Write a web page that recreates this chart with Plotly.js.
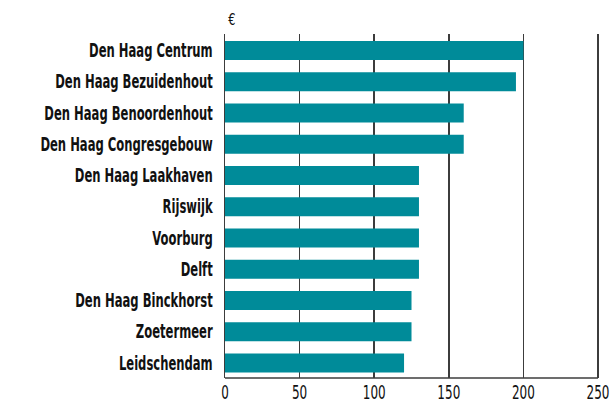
<!DOCTYPE html>
<html>
<head>
<meta charset="utf-8">
<script src="https://cdn.plot.ly/plotly-3.0.1.min.js"></script>
<style>html,body{margin:0;padding:0;background:#fff;}#chart{width:614px;height:403px;}</style>
</head>
<body>
<div id="chart"></div>
<script>
const categories = ["Den Haag Centrum","Den Haag Bezuidenhout","Den Haag Benoordenhout","Den Haag Congresgebouw","Den Haag Laakhaven","Rijswijk","Voorburg","Delft","Den Haag Binckhorst","Zoetermeer","Leidschendam"];
const values = [200,195,160,160,130,130,130,130,125,125,120];
const xTicks = [0,50,100,150,200,250];
const unitLabel = "€";

const font = "DejaVu Sans, sans-serif";
Plotly.newPlot('chart', [{
  type: 'bar', orientation: 'h', y: categories, x: values,
  marker: {color: '#008b99'}, width: 0.61, hoverinfo: 'none'
}], {
  width: 614, height: 403,
  margin: {l: 225, r: 13, t: 34, b: 25, pad: 0},
  paper_bgcolor: '#fff', plot_bgcolor: '#fff',
  showlegend: false,
  xaxis: {
    range: [0, 252], tickvals: xTicks, ticktext: xTicks.map(String),
    showgrid: true, gridcolor: '#3c3c3c', gridwidth: 1.5,
    zeroline: false, showline: false,
    ticks: '', ticklabeloverflow: 'allow',
    tickfont: {family: font, size: 20, color: '#111'},
    fixedrange: true
  },
  yaxis: {
    type: 'category', range: [10.48, -0.53],
    showgrid: false, zeroline: false, showline: true, linecolor: '#3c3c3c', linewidth: 1.5,
    ticks: '', ticklabelstandoff: 7,
    tickfont: {family: font, size: 19, color: '#111', weight: 'bold'},
    fixedrange: true
  },
  shapes: [{
    type: 'line', xref: 'x', yref: 'paper', x0: 0, x1: xTicks[xTicks.length-1], y0: 0, y1: 0,
    line: {color: '#3c3c3c', width: 1.5}
  }],
  annotations: [{
    text: unitLabel, xref: 'paper', yref: 'paper', x: 0, y: 1, xanchor: 'left', yanchor: 'bottom',
    yshift: 3, showarrow: false, font: {family: font, size: 15, color: '#111'}
  }]
}, {staticPlot: true, displayModeBar: false}).then(function(gd){
  function squeeze(sel, ratio){
    gd.querySelectorAll(sel).forEach(function(t){
      var w = t.getComputedTextLength();
      t.setAttribute('textLength', (w*ratio).toFixed(1));
      t.setAttribute('lengthAdjust', 'spacingAndGlyphs');
    });
  }
  squeeze('.ytick text', 0.61);
  squeeze('.xtick text', 0.6);
  squeeze('.annotation-text', 0.75);
});
</script>
</body>
</html>
